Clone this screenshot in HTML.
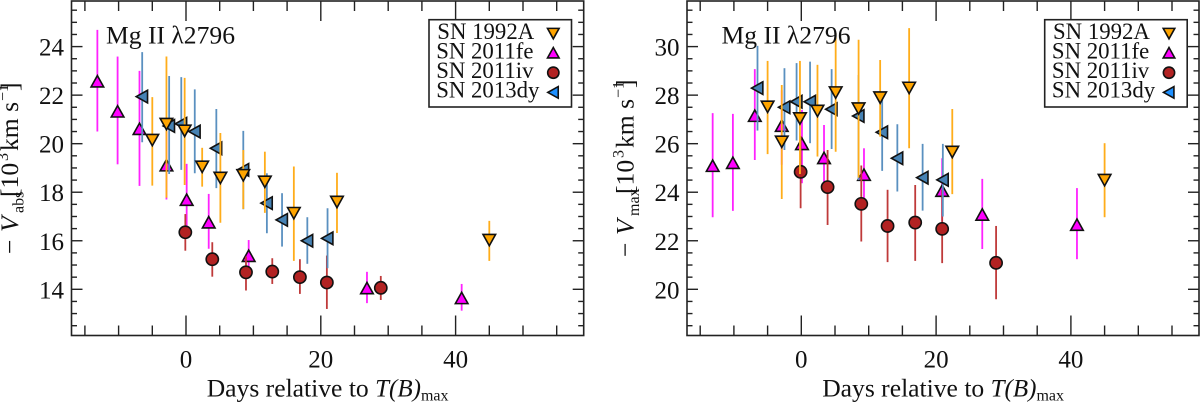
<!DOCTYPE html>
<html lang="en">
<head>
<meta charset="utf-8">
<title>Mg II velocity evolution</title>
<style>
html,body{margin:0;padding:0;background:#fff;width:1200px;height:402px;overflow:hidden}
svg{display:block}
text{font-family:"Liberation Serif","Times New Roman",serif;fill:#111}
</style>
</head>
<body>
<svg id="chart" xmlns="http://www.w3.org/2000/svg" width="1200" height="402" viewBox="0 0 1200 402"></svg>
<script>
// Shared phases (days relative to T(B)max)
const days1992A = [-5, -2.9, -0.2, 2.4, 5.1, 8.5, 11.7, 16, 22.4, 45];
const days2011iv = [-0.1, 3.9, 8.9, 12.8, 16.9, 20.9, 28.9];
const days2013dy = [-6.5, -2.5, -0.7, 1.3, 4.5, 8.5, 12, 14.25, 18, 21];
const days2011feAbs = [-13.15, -10.15, -6.9, -2.9, 0.1, 3.37, 9.3, 26.85, 40.9];
const days2011feMax = [-13.15, -10.15, -6.9, -2.9, 0.1, 3.37, 9.3, 20.9, 26.85, 40.9];

// V_abs panel
const abs1992A = [20.16, 20.82, 20.54, 19.06, 18.6, 18.71, 18.44, 17.15, 17.61, 16.04];
const abs1992AHi = [21.92, 23.59, 22.71, 19.83, 20.44, 19.74, 19.67, 19.06, 18.8, 16.82];
const abs1992ALo = [18.27, 17.77, 18.3, 18.23, 16.74, 17.31, 17.15, 15.17, 16.32, 15.17];
const abs2011fe = [22.56, 21.32, 20.6, 19.1, 17.68, 16.75, 15.37, 14.04, 13.63];
const abs2011feHi = [24.69, 23.59, 23, 20.5, 19.17, 17.93, 16.03, 14.72, 14.22];
const abs2011feLo = [20.5, 19.15, 18.26, 17.7, 16.6, 15.67, 14.8, 13.43, 13.12];
const abs2011iv = [16.35, 15.24, 14.7, 14.73, 14.5, 14.28, 14.06];
const abs2011ivHi = [17.1, 15.94, 15.35, 15.28, 15.24, 15.39, 14.55];
const abs2011ivLo = [15.59, 14.52, 13.95, 14.22, 13.81, 13.19, 13.56];
const abs2013dy = [21.94, 20.73, 20.82, 20.5, 19.81, 18.92, 17.55, 16.86, 16, 16.1];
const abs2013dyHi = [23.77, 22.79, 22.74, 22.24, 21.43, 20.53, 18.78, 17.96, 16.97, 17.34];
const abs2013dyLo = [20.06, 18.75, 18.92, 18.78, 18.17, 17.3, 16.31, 15.76, 15.05, 14.87];

// V_max panel
const max1992A = [27.53, 26.09, 27.05, 27.36, 28.12, 27.46, 27.91, 28.31, 25.67, 24.51];
const max1992AHi = [29.41, 28.42, 29.41, 29.25, 30.55, 30.28, 29.45, 30.76, 27.43, 26.02];
const max1992ALo = [25.57, 23.72, 24.75, 25.47, 25.67, 24.6, 26.29, 25.81, 23.92, 22.97];
const max2011fe = [25.08, 25.2, 27.14, 26.73, 25.98, 25.4, 24.71, 24.05, 23.07, 22.65];
const max2011feHi = [27.26, 27.23, 29.07, 28.2, 27.39, 26.77, 25.81, 25.4, 24.55, 24.17];
const max2011feLo = [22.97, 23.23, 25.33, 25.13, 24.37, 24.1, 23.5, 22.8, 21.66, 21.24];
const max2011iv = [24.84, 24.21, 23.52, 22.61, 22.75, 22.49, 21.09];
const max2011ivHi = [26.32, 25.74, 25.1, 24.1, 24.3, 24.1, 22.61];
const max2011ivLo = [23.34, 22.65, 21.97, 21.12, 21.17, 21.08, 19.59];
const max2013dy = [28.29, 27.5, 27.73, 27.73, 27.42, 27.14, 26.47, 25.4, 24.6, 24.51];
const max2013dyHi = [30.03, 29.11, 29.32, 29.38, 29.07, 28.83, 27.8, 26.8, 25.99, 25.99];
const max2013dyLo = [26.54, 25.74, 26.13, 26.02, 25.78, 24.5, 24.88, 24.03, 23.24, 23];

// Axis ticks and labels
const xMajorTicks = [0, 20, 40];
const xMinorTicks = [-15, -10, -5, 5, 10, 15, 25, 30, 35, 45, 50, 55];
const yMajorAbs = [14, 16, 18, 20, 22, 24];
const yMajorMax = [20, 22, 24, 26, 28, 30];
const legendNames = ["SN 1992A", "SN 2011fe", "SN 2011iv", "SN 2013dy"];

const NS = "http://www.w3.org/2000/svg";
const svg = document.getElementById("chart");
const INK = "#222";

function make(parent, tag, attrs, text) {
  const el = document.createElementNS(NS, tag);
  for (const k in attrs) el.setAttribute(k, attrs[k]);
  if (text !== undefined) el.textContent = text;
  parent.appendChild(el);
  return el;
}

function drawMarker(parent, shape, cx, cy, fill, r) {
  const sw = 1.6;
  if (shape === "down") {
    return make(parent, "polygon", {points: [[cx - r, cy - r * 0.85], [cx + r, cy - r * 0.85], [cx, cy + r * 0.95]].join(" "), fill: fill, stroke: "#111", "stroke-width": sw, "stroke-linejoin": "miter"});
  }
  if (shape === "up") {
    return make(parent, "polygon", {points: [[cx - r, cy + r * 0.85], [cx + r, cy + r * 0.85], [cx, cy - r * 0.95]].join(" "), fill: fill, stroke: "#111", "stroke-width": sw, "stroke-linejoin": "miter"});
  }
  if (shape === "left") {
    return make(parent, "polygon", {points: [[cx + r * 0.85, cy - r], [cx + r * 0.85, cy + r], [cx - r * 0.95, cy]].join(" "), fill: fill, stroke: "#111", "stroke-width": sw, "stroke-linejoin": "miter"});
  }
  return make(parent, "circle", {cx: cx, cy: cy, r: r * 0.97, fill: fill, stroke: "#111", "stroke-width": sw});
}

function drawPanel(cfg) {
  const panel = make(svg, "g", {});
  
  

  const L = cfg.left, R = cfg.right, T = 1, B = 335.5;
  const xOf = d => cfg.x0 + d * 6.74;
  const yOf = v => 289.3 - (v - cfg.yBase) * 24.27;

  // Series: drawn back to front
  const seriesList = [
    {key: "sn-2011fe", shape: "up", fill: "#ff00ff", bar: "#ff22ff", days: cfg.fe[0], val: cfg.fe[1], hi: cfg.fe[2], lo: cfg.fe[3]},
    {key: "sn-2011iv", shape: "circle", fill: "#b22222", bar: "#bf3a3a", days: cfg.iv[0], val: cfg.iv[1], hi: cfg.iv[2], lo: cfg.iv[3]},
    {key: "sn-2013dy", shape: "left", fill: "#4682b4", bar: "#5a90c0", days: cfg.dy[0], val: cfg.dy[1], hi: cfg.dy[2], lo: cfg.dy[3]},
    {key: "sn-1992a", shape: "down", fill: "#ffa500", bar: "#ffad1a", days: cfg.a[0], val: cfg.a[1], hi: cfg.a[2], lo: cfg.a[3]}
  ];
  seriesList.forEach(s => {
    const group = make(panel, "g", {});
    
    
    s.days.forEach((d, i) => {
      const bar = make(group, "line", {x1: xOf(d), x2: xOf(d), y1: yOf(s.hi[i]), y2: yOf(s.lo[i]), stroke: s.bar, "stroke-width": 1.8});
      
      
    });
    s.days.forEach((d, i) => {
      const mark = drawMarker(group, s.shape, xOf(d), yOf(s.val[i]), s.fill, 6.3);
      
      
    });
  });

  // Ticks
  const ticks = make(panel, "g", {stroke: INK, "stroke-width": 1.4, fill: "none"});
  
  
  xMajorTicks.forEach(t => {
    make(ticks, "line", {x1: xOf(t), x2: xOf(t), y1: B, y2: B - 20});
    make(ticks, "line", {x1: xOf(t), x2: xOf(t), y1: T, y2: T + 20});
  });
  xMinorTicks.forEach(t => {
    make(ticks, "line", {x1: xOf(t), x2: xOf(t), y1: B, y2: B - 10});
    make(ticks, "line", {x1: xOf(t), x2: xOf(t), y1: T, y2: T + 10});
  });
  for (let v = cfg.yBase - 1.5; v <= cfg.yBase + 11.5; v += 0.5) {
    const isMajor = cfg.yTicks.includes(v);
    const len = isMajor ? 11 : 5.5;
    make(ticks, "line", {x1: L, x2: L + len, y1: yOf(v), y2: yOf(v)});
    make(ticks, "line", {x1: R, x2: R - len, y1: yOf(v), y2: yOf(v)});
  }

  // Frame
  const frame = make(panel, "rect", {x: L, y: T, width: R - L, height: B - T, fill: "none", stroke: INK, "stroke-width": 1.6});
  
  

  // Tick labels
  cfg.yTicks.forEach(v => {
    const label = make(panel, "text", {x: L - 7.5, y: yOf(v) + 9, "text-anchor": "end", "font-size": 25}, String(v));
    
    
  });
  xMajorTicks.forEach(t => {
    const label = make(panel, "text", {x: xOf(t), y: 367.5, "text-anchor": "middle", "font-size": 25}, String(t));
    
    
  });

  // X title
  const xt = make(panel, "text", {x: L + 135.2, y: 396.5, "font-size": 25.6});
  
  
  make(xt, "tspan", {}, "Days relative to ");
  make(xt, "tspan", {"font-style": "italic", "font-size": 25}, "T(B)");
  make(xt, "tspan", {"font-size": 16, dy: 4}, "max");

  // Y title
  const yt = make(panel, "text", {transform: "translate(" + (L - 53.5) + "," + cfg.titleY + ") rotate(-90)", "font-size": 25.6});
  
  
  const g = cfg.subGap;
  make(yt, "tspan", {x: 0, y: 0}, "\u2212");
  make(yt, "tspan", {x: 22, y: 0, "font-style": "italic", "font-size": 25.6}, "V");
  make(yt, "tspan", {x: 41, y: 5.5, "font-size": 16}, cfg.sub);
  make(yt, "tspan", {x: 57 + g, y: 0}, "[10");
  make(yt, "tspan", {x: 93 + g, y: -10, "font-size": 16}, "3");
  make(yt, "tspan", {x: 103 + g, y: 0}, "km s");
  make(yt, "tspan", {x: 153 + g, y: -10, "font-size": 16}, "\u22121");
  make(yt, "tspan", {x: 163 + g, y: 0}, "]");

  // Annotation
  const note = make(panel, "text", {x: L + 34.5, y: 43.3, "font-size": 25.6}, "Mg II \u03bb2796");
  
  

  // Legend
  const lx = cfg.legendX;
  const legend = make(panel, "g", {transform: "translate(" + lx + ",19.7)"});
  
  
  make(legend, "rect", {x: 0, y: 0, width: 142.5, height: 87.3, fill: "#fff", stroke: INK, "stroke-width": 1.6});
  const shapes = ["down", "up", "circle", "left"];
  const fills = ["#ffa500", "#ff00ff", "#b22222", "#1e90ff"];
  legendNames.forEach((n, i) => {
    const entry = make(legend, "g", {});
    
    
    make(entry, "text", {x: i === 0 ? 8.3 : 7.2, y: 19.3 + i * 19.5, "font-size": 22.8}, n);
    drawMarker(entry, shapes[i], 124.3, 13.6 + i * 19.7, fills[i], 5.8);
  });
}

drawPanel({
  name: "panel-v-abs", left: 71.5, right: 583.7, x0: 186, yBase: 14, yTicks: yMajorAbs, sub: "abs", subGap: 0, titleY: 254, legendX: 429,
  a: [days1992A, abs1992A, abs1992AHi, abs1992ALo],
  fe: [days2011feAbs, abs2011fe, abs2011feHi, abs2011feLo],
  iv: [days2011iv, abs2011iv, abs2011ivHi, abs2011ivLo],
  dy: [days2013dy, abs2013dy, abs2013dyHi, abs2013dyLo]
});
drawPanel({
  name: "panel-v-max", left: 687, right: 1199, x0: 801.3, yBase: 20, yTicks: yMajorMax, sub: "max", subGap: 6, titleY: 257, legendX: 1044.7,
  a: [days1992A, max1992A, max1992AHi, max1992ALo],
  fe: [days2011feMax, max2011fe, max2011feHi, max2011feLo],
  iv: [days2011iv, max2011iv, max2011ivHi, max2011ivLo],
  dy: [days2013dy, max2013dy, max2013dyHi, max2013dyLo]
});
</script>
</body>
</html>
